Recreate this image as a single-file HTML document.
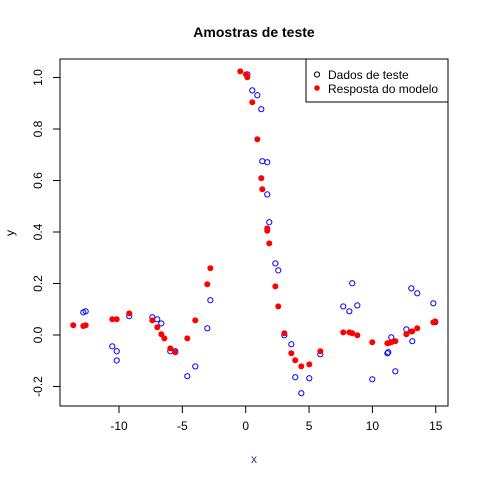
<!DOCTYPE html>
<html><head><meta charset="utf-8"><style>
body{margin:0;background:#fff}
svg{display:block;font-family:"Liberation Sans",Arial,sans-serif}
</style></head><body>
<svg id="chart" width="480" height="480">
<text x="254" y="37" text-anchor="middle" font-size="14" font-weight="bold">Amostras de teste</text>
<text x="254" y="463" text-anchor="middle" font-size="12" fill="#4b2a72">x</text>
<text x="14" y="233" text-anchor="middle" font-size="12" transform="rotate(-90 14 233)">y</text>
<rect x="60" y="59" width="388" height="347" fill="none" stroke="#000"/>
<g id="axes"></g>
<g id="points"></g>
<g>
<rect x="306" y="59" width="142" height="43" fill="#fff" stroke="#000"/>
<circle cx="317" cy="74.5" r="2.6" fill="none" stroke="#000"/>
<text x="328" y="79" font-size="12">Dados de teste</text>
<circle cx="317" cy="88" r="2.8" fill="#f00"/>
<text x="328" y="93" font-size="12">Resposta do modelo</text>
</g>
</svg>
<script>
const testX=[-12.82,-12.63,-10.53,-10.18,-10.18,-9.19,-7.37,-6.98,-6.66,-5.95,-5.56,-4.61,-3.98,-3.03,-2.79,0.13,0.52,0.92,1.23,1.31,1.70,1.70,1.86,2.34,2.57,3.05,3.60,3.91,4.39,5.02,5.89,7.70,8.18,8.41,8.81,9.99,11.18,11.25,11.49,11.81,12.68,13.07,13.15,13.54,14.81,14.96];
const testY=[0.088,0.092,-0.044,-0.063,-0.099,0.073,0.069,0.061,0.045,-0.063,-0.063,-0.160,-0.122,0.026,0.135,1.012,0.950,0.931,0.877,0.675,0.671,0.546,0.438,0.278,0.251,-0.001,-0.036,-0.164,-0.226,-0.168,-0.075,0.111,0.092,0.201,0.115,-0.172,-0.071,-0.067,-0.009,-0.141,0.022,0.181,-0.024,0.162,0.123,0.050];
const modelX=[-13.61,-12.82,-12.63,-10.53,-10.18,-9.19,-7.37,-6.98,-6.66,-6.42,-5.95,-5.56,-4.61,-3.98,-3.03,-2.79,-0.43,0.02,0.13,0.52,0.92,1.23,1.31,1.70,1.70,1.86,2.34,2.57,3.05,3.60,3.91,4.39,5.02,5.89,7.70,8.18,8.41,8.81,9.99,11.18,11.25,11.49,11.81,12.68,13.07,13.15,13.54,14.81,14.96];
const modelY=[0.038,0.035,0.038,0.061,0.061,0.084,0.057,0.030,0.003,-0.013,-0.052,-0.067,-0.013,0.057,0.197,0.259,1.024,1.012,1.001,0.904,0.760,0.609,0.566,0.414,0.405,0.356,0.189,0.111,0.007,-0.071,-0.098,-0.122,-0.114,-0.063,0.010,0.010,0.007,-0.001,-0.028,-0.032,-0.032,-0.028,-0.024,0.003,0.014,0.014,0.026,0.049,0.053];
const xTicks=[-10,-5,0,5,10,15];
const yTicks=[-0.2,0.0,0.2,0.4,0.6,0.8,1.0];
const yTickLabels=["-0.2","0.0","0.2","0.4","0.6","0.8","1.0"];
const NS="http://www.w3.org/2000/svg";
function sx(v){return 245.7+v*12.67;}
function sy(v){return 335-v*257.5;}
const axes=document.getElementById('axes');
function mk(tag,attrs,parent){const e=document.createElementNS(NS,tag);for(const k in attrs)e.setAttribute(k,attrs[k]);parent.appendChild(e);return e;}
mk('line',{x1:sx(xTicks[0]),x2:sx(xTicks[xTicks.length-1]),y1:406,y2:406,stroke:'#000'},axes);
mk('line',{x1:60,x2:60,y1:sy(yTicks[0]),y2:sy(yTicks[yTicks.length-1]),stroke:'#000'},axes);
xTicks.forEach(t=>{
  const l=mk('line',{x1:sx(t),x2:sx(t),y1:406,y2:413,stroke:'#000'},axes);
  
  
  const tx=mk('text',{x:sx(t),y:430,'text-anchor':'middle','font-size':12},axes);
  tx.textContent=String(t);
  
  
});
yTicks.forEach((t,i)=>{
  const l=mk('line',{x1:53,x2:60,y1:sy(t),y2:sy(t),stroke:'#000'},axes);
  
  
  const tx=mk('text',{x:42,y:sy(t),'text-anchor':'middle','font-size':12,transform:'rotate(-90 42 '+sy(t)+')'},axes);
  tx.textContent=yTickLabels[i];
  
  
});
const pts=document.getElementById('points');
testX.forEach((v,i)=>{
  const c=mk('circle',{cx:sx(v),cy:sy(testY[i]),r:2.6,fill:'none',stroke:'#00f','stroke-width':1},pts);
  
  
});
modelX.forEach((v,i)=>{
  const c=mk('circle',{cx:sx(v),cy:sy(modelY[i]),r:3,fill:'#f00'},pts);
  
  
});
</script>
</body></html>
